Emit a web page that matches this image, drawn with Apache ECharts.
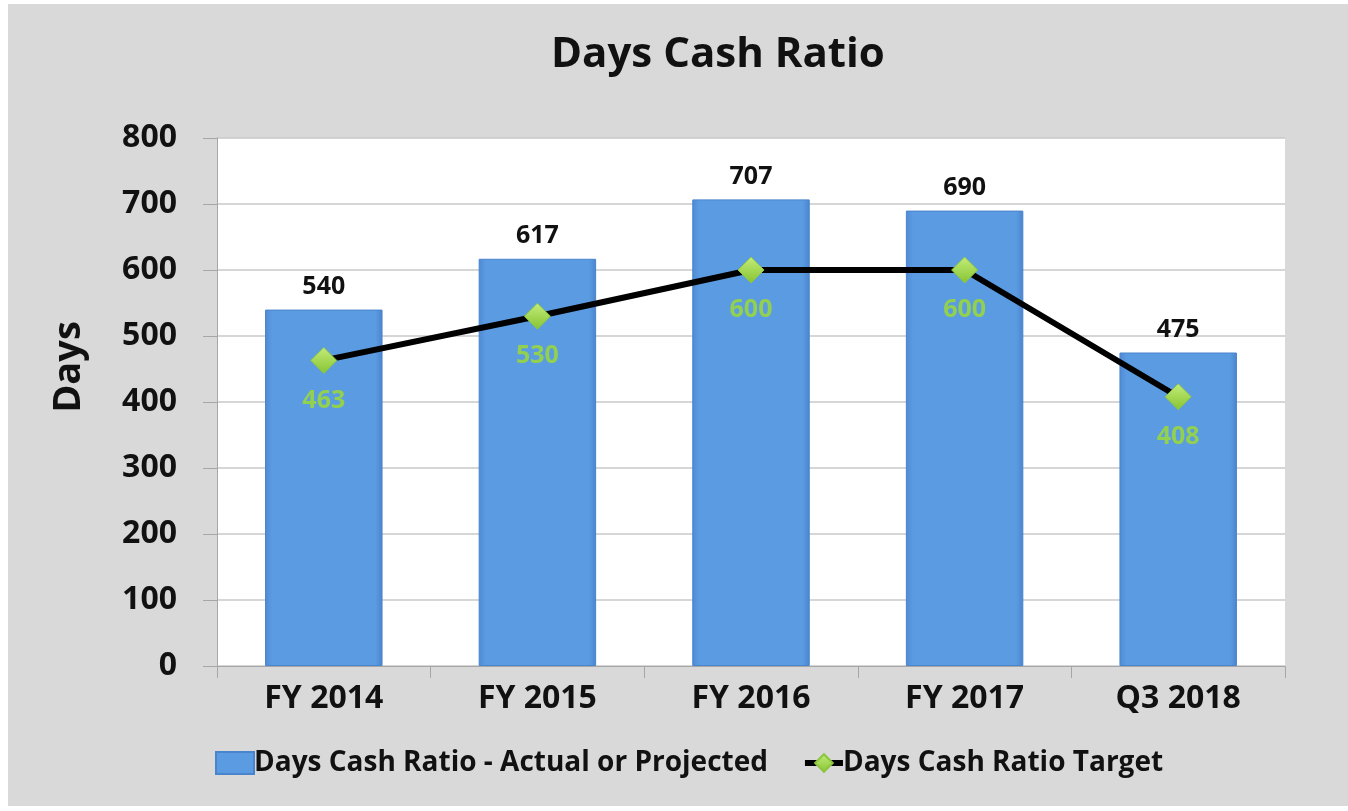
<!DOCTYPE html>
<html>
<head>
    <meta charset="UTF-8">
    <title>Days Cash Ratio</title>
    <script src="https://cdn.jsdelivr.net/npm/echarts@6/dist/echarts.min.js"></script>
    <style>
        body { margin: 0; background: #ffffff; }
        #main { position: absolute; left: 8px; top: 4px; width: 1340px; height: 802px; }
    </style>
</head>
<body>
<div id="main"></div>
<script>
    // data
    var categories = ['FY 2014', 'FY 2015', 'FY 2016', 'FY 2017', 'Q3 2018'];
    var actualValues = [540, 617, 707, 690, 475];
    var targetValues = [463, 530, 600, 600, 408];
    var yTicks = { min: 0, max: 800, interval: 100 };

    var font = '"Open Sans", Lato, sans-serif';

    var myChart = echarts.init(document.getElementById('main'));

    var barColor = new echarts.graphic.LinearGradient(0, 0, 1, 0, [
        { offset: 0, color: '#4f8ad4' },
        { offset: 0.06, color: '#5b9be2' },
        { offset: 0.94, color: '#5b9be2' },
        { offset: 1, color: '#4a84cc' }
    ]);
    var diamondColor = new echarts.graphic.LinearGradient(0, 0, 0, 1, [
        { offset: 0, color: '#c4ec7a' },
        { offset: 1, color: '#86c431' }
    ]);

    var option = {
        backgroundColor: '#d9d9d9',
        textStyle: { fontFamily: font },
        title: {
            text: 'Days Cash Ratio',
            left: 538,
            top: 25,
            textStyle: { fontSize: 42, fontWeight: 'bold', color: '#111', fontFamily: font }
        },
        // y axis name sits a bit above the plot middle, as in the original
        graphic: [{
            type: 'text',
            x: 61,
            y: 363,
            rotation: Math.PI / 2,
            style: {
                text: 'Days',
                fontSize: 38,
                fontWeight: 'bold',
                fill: '#111',
                fontFamily: font,
                align: 'center',
                verticalAlign: 'middle'
            }
        }],
        legend: {
            left: 202,
            top: 740,
            itemGap: 34,
            itemWidth: 38,
            itemHeight: 22,
            textStyle: { fontSize: 28, fontWeight: 'bold', color: '#111', fontFamily: font, padding: [0, 0, 0, -5] },
            data: [
                { name: 'Days Cash Ratio - Actual or Projected', icon: 'rect' },
                { name: 'Days Cash Ratio Target', lineStyle: { width: 6, color: '#000' } }
            ]
        },
        grid: {
            left: 209, right: 63, top: 134, bottom: 140,
            show: true, backgroundColor: '#ffffff', borderWidth: 0
        },
        xAxis: {
            type: 'category',
            data: categories,
            axisLine: { lineStyle: { color: '#a6a6a6', width: 1 } },
            axisTick: { show: true, length: 12, lineStyle: { color: '#a6a6a6' } },
            axisLabel: { margin: 17, fontSize: 32, fontWeight: 'bold', color: '#111', fontFamily: font }
        },
        yAxis: {
            type: 'value',
            min: yTicks.min,
            max: yTicks.max,
            interval: yTicks.interval,
            axisLine: { show: true, lineStyle: { color: '#a6a6a6' } },
            axisTick: { show: true, length: 14, lineStyle: { color: '#a6a6a6' } },
            axisLabel: { margin: 40, fontSize: 32, fontWeight: 'bold', color: '#111', fontFamily: font },
            splitLine: { lineStyle: { color: '#c8c8c8', width: 1.5 } }
        },
        series: [
            {
                name: 'Days Cash Ratio - Actual or Projected',
                type: 'bar',
                data: actualValues,
                barWidth: '55%',
                itemStyle: { color: barColor, borderColor: '#4a84cc', borderWidth: 1 },
                label: {
                    show: true,
                    position: 'top',
                    distance: 10,
                    fontSize: 25,
                    fontWeight: 'bold',
                    color: '#111',
                    fontFamily: font
                },
                z: 2
            },
            {
                name: 'Days Cash Ratio Target',
                type: 'line',
                data: targetValues,
                symbol: 'diamond',
                symbolSize: 26,
                lineStyle: { color: '#000', width: 6 },
                itemStyle: { color: diamondColor, borderColor: '#8cc63f', borderWidth: 1 },
                label: {
                    show: true,
                    position: 'bottom',
                    distance: 14,
                    fontSize: 25,
                    fontWeight: 'bold',
                    color: '#92d050',
                    fontFamily: font
                },
                z: 3
            }
        ]
    };

    myChart.setOption(option);
</script>
</body>
</html>
